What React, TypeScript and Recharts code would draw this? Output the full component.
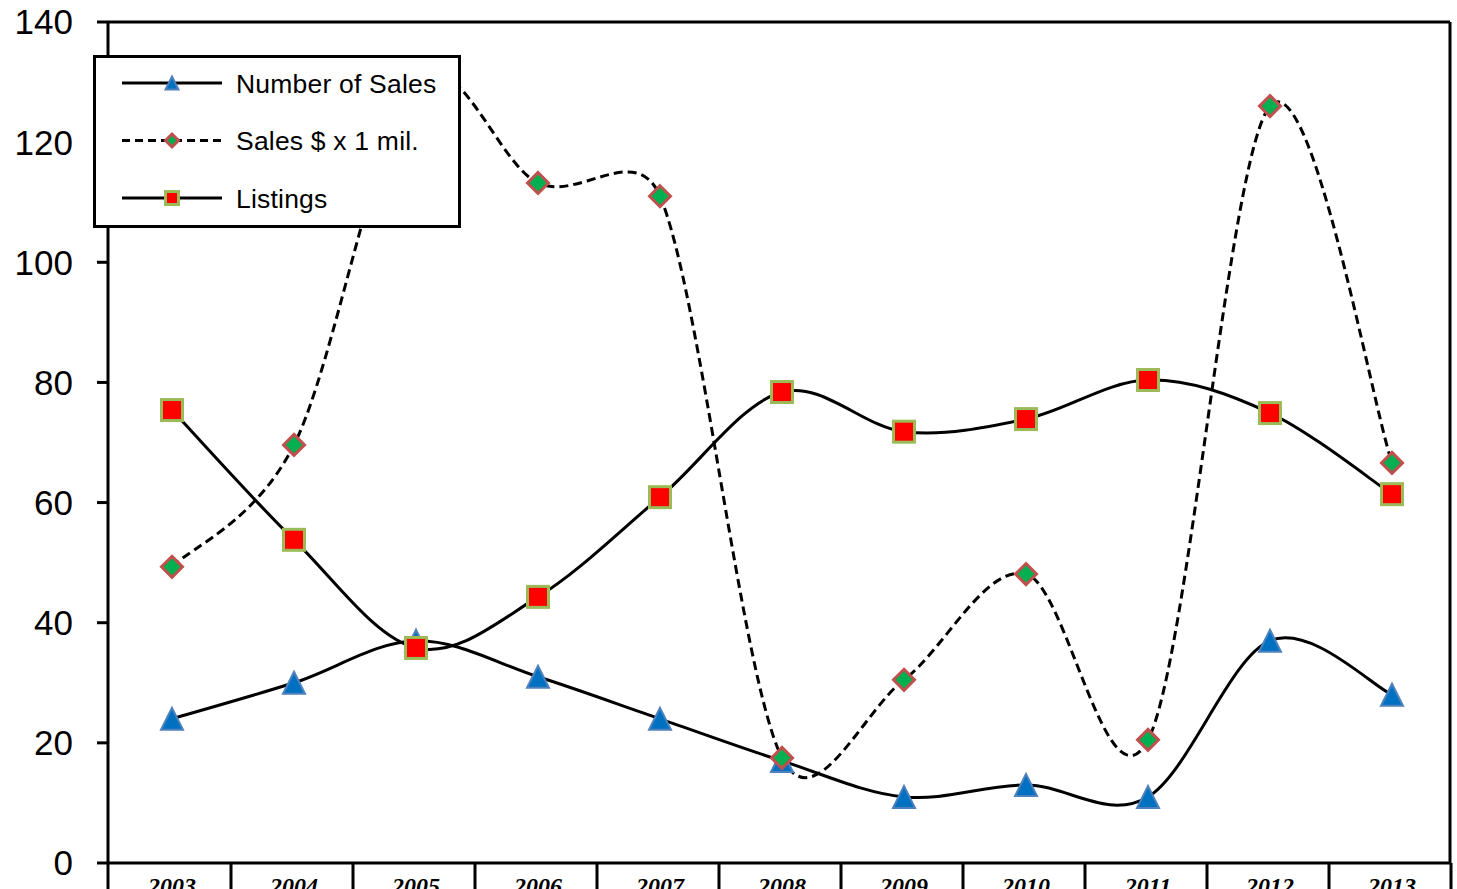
import { LineChart, Line, XAxis, YAxis, Legend, ReferenceLine } from "recharts";

const YEARS = ["2003", "2004", "2005", "2006", "2007", "2008", "2009", "2010", "2011", "2012", "2013"];
const NUMBER_OF_SALES = [24, 30, 37, 31, 24, 17, 11, 13, 11, 37, 28];
const SALES_MIL = [49.3, 69.6, 130, 113.2, 111, 17.5, 30.5, 48.1, 20.5, 126, 66.6];
const LISTINGS = [75.4, 53.8, 35.8, 44.3, 60.9, 78.4, 71.8, 73.9, 80.4, 74.9, 61.4];
const Y_TICKS = [0, 20, 40, 60, 80, 100, 120, 140];

const SERIES = [
  { key: "sales", name: "Number of Sales", dashed: false, marker: "triangle" },
  { key: "dollars", name: "Sales $ x 1 mil.", dashed: true, marker: "diamond" },
  { key: "listings", name: "Listings", dashed: false, marker: "square" },
];

const data = YEARS.map((year, i) => ({
  year,
  sales: NUMBER_OF_SALES[i],
  dollars: SALES_MIL[i],
  listings: LISTINGS[i],
}));

const SANS = '"Liberation Sans", Arial, sans-serif';
const PAD_LEFT = 64;
const PAD_RIGHT = 58;
const BOUNDARY = 59;

// Excel-like smoothing: bezier tangents parallel to neighbour chord,
// length 1/6 of the chord but no more than half the segment
const excelSmooth = (context: any) => {
  let pts: number[][] = [];
  const ctrl = (prev: number[], cur: number[], next: number[], seg: number[], sign: number) => {
    const dx = next[0] - prev[0];
    const dy = next[1] - prev[1];
    const len = Math.hypot(dx, dy);
    if (!len) return cur;
    const segLen = Math.hypot(seg[0] - cur[0], seg[1] - cur[1]);
    const d = Math.min(len / 6, segLen / 2);
    return [cur[0] + (sign * d * dx) / len, cur[1] + (sign * d * dy) / len];
  };
  return {
    areaStart() {},
    areaEnd() {},
    lineStart() {
      pts = [];
    },
    point(x: number, y: number) {
      pts.push([+x, +y]);
    },
    lineEnd() {
      if (!pts.length) return;
      context.moveTo(pts[0][0], pts[0][1]);
      for (let i = 0; i < pts.length - 1; i++) {
        const p0 = pts[i - 1] || pts[i];
        const p1 = pts[i];
        const p2 = pts[i + 1];
        const p3 = pts[i + 2] || p2;
        const c1 = ctrl(p0, p1, p2, p2, 1);
        const c2 = ctrl(p1, p2, p3, p1, -1);
        context.bezierCurveTo(c1[0], c1[1], c2[0], c2[1], p2[0], p2[1]);
      }
    },
  };
};

function Marker({ kind, cx, cy, s }: { kind: string; cx: number; cy: number; s: number }) {
  const h = s / 2;
  if (kind === "triangle") {
    return (
      <path
        d={`M${cx},${cy - h} L${cx + h},${cy + h} L${cx - h},${cy + h} Z`}
        fill="#0070c0"
        stroke="#4f81bd"
        strokeWidth={2}
      />
    );
  }
  if (kind === "diamond") {
    return (
      <path
        d={`M${cx},${cy - h} L${cx + h},${cy} L${cx},${cy + h} L${cx - h},${cy} Z`}
        fill="#00b050"
        stroke="#c0504d"
        strokeWidth={3}
      />
    );
  }
  return (
    <rect x={cx - h} y={cy - h} width={s} height={s} fill="#ff0000" stroke="#9bbb59" strokeWidth={3} />
  );
}

const makeDot = (kind: string) => (props: any) => {
  const { cx, cy, index } = props;
  return (
    <g key={`${kind}-${index}`}>
      <Marker kind={kind} cx={cx} cy={cy} s={kind === "triangle" ? 22 : 21} />
    </g>
  );
};

const YearTick = (props: any) => {
  const { x, y, payload, index } = props;
  return (
    <g>
      {index === 0 && <line x1={x - PAD_LEFT} y1={y} x2={x - PAD_LEFT} y2={y + 30} stroke="#000" strokeWidth={3} />}
      <line x1={x + BOUNDARY} y1={y} x2={x + BOUNDARY} y2={y + 30} stroke="#000" strokeWidth={3} />
      <text
        x={x}
        y={y + 31}
        textAnchor="middle"
        fontFamily='"Liberation Serif", "Times New Roman", serif'
        fontWeight="bold"
        fontStyle="italic"
        fontSize={24}
        fill="#000"
      >
        {payload.value}
      </text>
    </g>
  );
};

const LegendBox = () => (
  <div
    style={{
      width: 368,
      height: 173,
      boxSizing: "border-box",
      border: "3px solid #000",
      background: "#fff",
    }}
  >
    <svg width={362} height={167}>
      {SERIES.map((s, i) => {
        const y = 25 + i * 57.5;
        return (
          <g key={s.key}>
            <line
              x1={26}
              y1={y}
              x2={126}
              y2={y}
              stroke="#000"
              strokeWidth={3}
              strokeDasharray={s.dashed ? "8 5" : undefined}
            />
            <Marker kind={s.marker} cx={76} cy={y} s={13} />
            <text x={140} y={y} dy="0.36em" fontFamily={SANS} fontSize={26.5} letterSpacing={0.2} fill="#000">
              {s.name}
            </text>
          </g>
        );
      })}
    </svg>
  </div>
);

export default function App() {
  return (
    <div style={{ position: "absolute", left: 0, top: 0, background: "#fff" }}>
      <LineChart width={1457} height={889} data={data} margin={{ top: 22, right: 0, bottom: 0, left: 0 }}>
        <XAxis
          dataKey="year"
          padding={{ left: PAD_LEFT, right: PAD_RIGHT }}
          height={26}
          interval={0}
          tickLine={false}
          tickSize={0}
          tickMargin={0}
          axisLine={{ stroke: "#000", strokeWidth: 3 }}
          tick={<YearTick />}
        />
        <YAxis
          domain={[0, 140]}
          ticks={Y_TICKS}
          width={108}
          interval={0}
          tickSize={11}
          tickMargin={24}
          tickLine={{ stroke: "#000", strokeWidth: 3 }}
          axisLine={{ stroke: "#000", strokeWidth: 3 }}
          tick={{ fontSize: 35, fill: "#000", fontFamily: SANS }}
        />
        <YAxis
          yAxisId="right"
          orientation="right"
          domain={[0, 140]}
          width={7}
          tick={false}
          tickLine={false}
          axisLine={{ stroke: "#000", strokeWidth: 3 }}
        />
        <ReferenceLine y={140} stroke="#000" strokeWidth={3} />
        {SERIES.map((s) => (
          <Line
            key={s.key}
            dataKey={s.key}
            name={s.name}
            type={excelSmooth as any}
            stroke="#000"
            strokeWidth={3}
            strokeDasharray={s.dashed ? "9 5" : undefined}
            dot={makeDot(s.marker)}
            activeDot={false}
            isAnimationActive={false}
          />
        ))}
        <Legend
          layout="horizontal"
          verticalAlign="middle"
          align="center"
          wrapperStyle={{ position: "absolute", left: 93, top: 55, width: 368, height: 173, margin: 0, padding: 0 }}
          content={() => <LegendBox />}
        />
      </LineChart>
    </div>
  );
}
